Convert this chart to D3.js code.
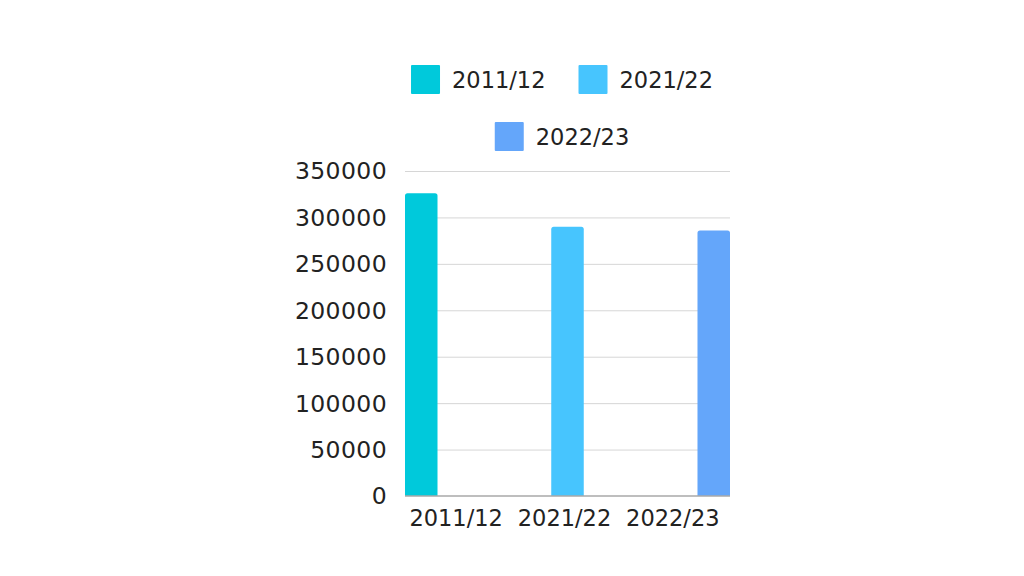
<!DOCTYPE html>
<html><head><meta charset="utf-8">
<script src="https://cdn.jsdelivr.net/npm/d3@7"></script>
<style>html,body{margin:0;padding:0;background:#fff;}svg{display:block;}</style>
</head><body>
<svg id="c" width="1024" height="576"></svg>
<script>
const categories = ["2011/12", "2021/22", "2022/23"];
const seriesNames = ["2011/12", "2021/22", "2022/23"];
const seriesColors = ["#00c9db", "#47c5fe", "#64a6fa"];
// each series has a value only in its own category
const seriesValues = [
  [326000, null, null],
  [null, 290000, null],
  [null, null, 286000]
];
const yTicks = [0, 50000, 100000, 150000, 200000, 250000, 300000, 350000];

(function () {
const svg = d3.select("#c");
const FONT = "DejaVu Sans";
const pLeft = 405, pRight = 730, pTop = 171, pBottom = 496;

const x0 = d3.scaleBand().domain(categories).range([pLeft, pRight]).padding(0);
const x1 = d3.scaleBand().domain(seriesNames).range([0, x0.bandwidth()]).paddingInner(0.1425).paddingOuter(0);
const y = d3.scaleLinear().domain([0, 350000]).range([pBottom, pTop]);

// gridlines
svg.append("g").selectAll("line").data(yTicks.filter(d => d > 0)).join("line")
  .attr("x1", pLeft).attr("x2", pRight)
  .attr("y1", d => y(d) + 0.5).attr("y2", d => y(d) + 0.5)
  .attr("stroke", "#d6d6d6").attr("stroke-width", 1);

// y tick labels
svg.append("g").selectAll("text").data(yTicks).join("text")
  .attr("x", 387).attr("y", d => y(d))
  .attr("dy", "0.36em")
  .attr("text-anchor", "end")
  .attr("font-family", FONT).attr("font-size", 23.5).attr("fill", "#222")
  .attr("letter-spacing", 0.4)
  .text(d => d);

// bars
const r = 2.5;
function barPath(x, w, yt, yb) {
  return `M${x},${yb}V${yt + r}Q${x},${yt} ${x + r},${yt}H${x + w - r}Q${x + w},${yt} ${x + w},${yt + r}V${yb}Z`;
}
const bars = [];
seriesNames.forEach((s, si) => {
  categories.forEach((c, ci) => {
    const v = seriesValues[si][ci];
    if (v != null) bars.push({ s, c, v, color: seriesColors[si] });
  });
});
svg.append("g").selectAll("path").data(bars).join("path")
  .attr("d", d => barPath(x0(d.c) + x1(d.s), x1.bandwidth(), y(d.v), y(0)))
  .attr("fill", d => d.color);

// x axis line
svg.append("line").attr("x1", pLeft).attr("x2", pRight)
  .attr("y1", pBottom).attr("y2", pBottom)
  .attr("stroke", "#a8a8a8").attr("stroke-width", 1.5);

// x labels
svg.append("g").selectAll("text").data(categories).join("text")
  .attr("x", d => x0(d) + x0.bandwidth() / 2 - 3)
  .attr("y", 526)
  .attr("text-anchor", "middle")
  .attr("font-family", FONT).attr("font-size", 22.5).attr("fill", "#222")
  .text(d => d);

// legend
const lg = svg.append("g");
const sw = 29, gapT = 12, gapItem = 33, centerX = 562;
const rows = [[0, 1], [2]];
const rowY = [65, 122];
rows.forEach((row, ri) => {
  const items = row.map(i => {
    const g = lg.append("g");
    g.append("rect").attr("width", sw).attr("height", sw).attr("y", 0).attr("fill", seriesColors[i]).attr("rx", 1);
    const t = g.append("text").attr("x", sw + gapT).attr("y", sw / 2).attr("dy", "0.36em")
      .attr("font-family", FONT).attr("font-size", 22.5).attr("fill", "#222").text(seriesNames[i]);
    const w = sw + gapT + t.node().getComputedTextLength();
    return { g, w };
  });
  const total = d3.sum(items, d => d.w) + gapItem * (items.length - 1);
  let cx = centerX - total / 2;
  items.forEach(it => {
    it.g.attr("transform", `translate(${cx},${rowY[ri]})`);
    cx += it.w + gapItem;
  });
});
})();
</script>
</body></html>
